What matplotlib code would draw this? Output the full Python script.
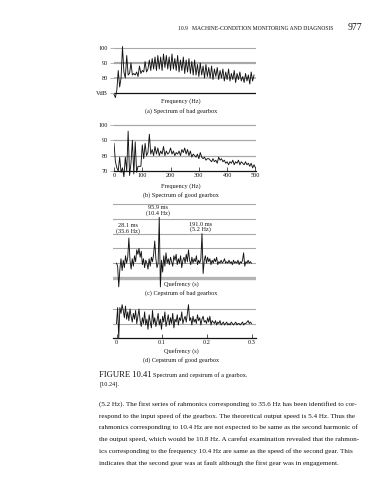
import matplotlib.pyplot as plt
import numpy as np

plt.rcParams['font.family'] = ['Liberation Serif', 'DejaVu Serif']

W, H = 387, 480

# (a) spectrum of bad gearbox, dB every 5 Hz
freq_a = np.arange(0, 500, 5)
spec_bad = [69, 67, 72, 85, 74, 80, 101, 84, 80, 95, 82, 83, 90, 82, 83, 82, 84, 81, 88, 83,
            85, 84, 91, 84, 86, 92, 85, 93, 86, 94, 85, 95, 86, 94, 85, 96, 87, 95, 86, 94,
            85, 96, 86, 93, 85, 95, 84, 92, 85, 94, 83, 92, 84, 93, 83, 91, 82, 92, 82, 89,
            81, 90, 82, 88, 80, 89, 81, 87, 80, 88, 79, 86, 81, 87, 79, 85, 80, 86, 78, 84,
            79, 86, 78, 83, 79, 85, 77, 83, 79, 84, 78, 81, 77, 83, 78, 82, 76, 84, 78, 82]

# (b) spectrum of good gearbox, dB every 5 Hz
freq_b = np.arange(0, 505, 5)
spec_good = [88, 76, 72, 70, 79, 69, 72, 66, 79, 70, 96, 67, 75, 90, 68, 89, 69, 73, 73, 73,
             87, 78, 88, 80, 82, 94, 81, 84, 80, 86, 81, 85, 80, 83, 81, 86, 80, 83, 81, 82,
             85, 81, 83, 80, 82, 81, 83, 80, 84, 82, 85, 81, 84, 80, 83, 79, 81, 80, 79, 81,
             78, 82, 79, 78, 79, 77, 78, 78, 77, 76, 78, 76, 77, 75, 79, 77, 78, 76, 77, 75,
             76, 74, 76, 75, 77, 74, 76, 75, 77, 74, 76, 75, 74, 76, 74, 75, 73, 75, 72, 74, 72]
freq_ticks = [0, 100, 200, 300, 400, 500]

# (c), (d) cepstra every 2.5 ms
quef = np.arange(121) * 0.0025
cep_bad = [1.0, 0.8, -0.6, 0.6, 1.3, 0.5, 1.2, 0.7, 1.5, 1.0,
           1.4, 2.7, 1.2, 0.6, 1.3, 0.8, 1.5, 1.1, 1.9, 1.6,
           2.0, 1.4, 1.8, 0.9, 1.3, 0.7, 1.2, 1.0, 0.6, 1.3,
           0.8, 1.4, 1.1, 1.6, 2.5, 1.3, 0.7, 1.0, 4.1, -0.6,
           1.2, 0.4, 1.5, 0.8, 1.7, 1.0, 1.3, 0.9, 1.4, 1.1,
           0.8, 1.5, 1.2, 1.6, 0.9, 1.3, 1.0, 1.5, 0.7, 1.2,
           1.4, 1.0, 1.6, 1.1, 1.9, 1.2, 0.9, 1.4, 1.0, 1.3,
           1.1, 1.5, 0.9, 1.2, 1.0, 1.3, 3.0, 0.3, 1.2, 1.5,
           1.0, 1.4, 1.1, 1.3, 0.9, 1.2, 1.0, 1.3, 1.1, 1.4,
           0.9, 1.1, 1.0, 1.2, 1.0, 1.1, 1.3, 1.0, 1.1, 1.0,
           1.2, 1.0, 1.1, 0.9, 1.2, 1.0, 1.1, 1.0, 1.2, 0.9,
           1.1, 1.0, 1.2, 1.7, 0.8, 1.1, 1.0, 1.2, 1.0, 1.1, 1.0]
cep_good = [1.0, 2.1, 0.0, 2.1, 1.7, 2.3, 1.9, 1.4, 2.2, 1.3,
            1.8, 1.2, 2.0, 1.5, 1.1, 1.7, 1.3, 1.9, 1.0, 1.5,
            2.0, 1.2, 0.8, 1.4, 1.0, 1.8, 0.9, 1.3, 0.6, 1.6,
            1.1, 0.7, 1.9, 1.0, 1.4, 0.8, 1.2, 1.7, 0.9, 1.3,
            0.6, 1.5, 1.1, 1.8, 0.8, 1.2, 1.6, 0.9, 1.4, 1.0,
            1.7, 0.7, 1.3, 1.1, 1.6, 0.9, 1.4, 1.2, 1.8, 1.0,
            1.3, 1.5, 1.1, 1.7, 2.3, 1.2, 1.4, 0.9, 1.5, 1.1,
            1.3, 1.0, 1.6, 1.2, 1.4, 0.9, 1.3, 1.5, 1.1, 1.2,
            1.0, 1.4, 1.1, 1.5, 0.9, 1.2, 1.1, 1.0, 1.2, 0.9,
            1.1, 1.0, 1.2, 0.9, 1.0, 1.1, 0.9, 1.0, 1.1, 0.9,
            1.0, 0.9, 1.1, 1.0, 0.9, 1.0, 1.1, 0.9, 1.0, 1.0,
            0.9, 1.0, 1.1, 0.9, 1.0, 1.0, 1.1, 1.2, 1.0, 1.1, 1.0]
quef_ticks = [0, 0.1, 0.2, 0.3]

peak_labels = [(0.0256, 3.35, '28.1 ms\n(35.6 Hz)'),
               (0.092, 4.55, '95.9 ms\n(10.4 Hz)'),
               (0.186, 3.45, '191.0 ms\n(5.2 Hz)')]

paragraph = [
    "(5.2 Hz). The first series of rahmonics corresponding to 35.6 Hz has been identified to cor-",
    "respond to the input speed of the gearbox. The theoretical output speed is 5.4 Hz. Thus the",
    "rahmonics corresponding to 10.4 Hz are not expected to be same as the second harmonic of",
    "the output speed, which would be 10.8 Hz. A careful examination revealed that the rahmon-",
    "ics corresponding to the frequency 10.4 Hz are same as the speed of the second gear. This",
    "indicates that the second gear was at fault although the first gear was in engagement.",
]

GRID = '#a8a8a8'
INK = '#141414'
FS = 4.5


def box(x0, y0, x1, y1):
    return [x0 / W, 1 - y1 / H, (x1 - x0) / W, (y1 - y0) / H]


def ftext(x, y, s, **kw):
    kw.setdefault('fontsize', FS)
    kw.setdefault('ha', 'center')
    kw.setdefault('va', 'center')
    kw.setdefault('color', INK)
    fig.text(x / W, 1 - y / H, s, **kw)


def clean(ax):
    for s in ax.spines.values():
        s.set_visible(False)
    ax.set_xticks([])
    ax.set_yticks([])
    ax.patch.set_alpha(0)


fig = plt.figure(figsize=(W / 100, H / 100), dpi=100)

ftext(256, 28, '10.9   MACHINE-CONDITION MONITORING AND DIAGNOSIS', fontsize=4.1)
ftext(355, 27.5, '977', fontsize=7)

# (a)
ax = fig.add_axes(box(114, 45, 256, 99))
clean(ax)
ax.set_xlim(0, 502)
ax.set_ylim(66, 102)
for v, lw in [(100, 0.8), (90, 1.6), (80, 1.1)]:
    ax.axhline(v, color=GRID, lw=lw, zorder=1)
ax.axhline(70, color=INK, lw=0.9, zorder=1)
ax.plot(freq_a, spec_bad, color=INK, lw=0.65, zorder=3, clip_on=False)
ax.set_yticks([100, 90, 80, 70], ['100', '90', '80', 'VdB'])
ax.tick_params(axis='y', length=3, width=0.6, color=GRID, labelsize=FS, pad=1.5, labelcolor=INK)
ftext(181, 101, 'Frequency (Hz)')
ftext(181, 111, '(a) Spectrum of bad gearbox')

# (b)
ax = fig.add_axes(box(114, 122, 256, 177))
clean(ax)
ax.set_xlim(0, 502)
ax.set_ylim(66, 102)
for v in [100, 90, 80]:
    ax.axhline(v, color=GRID, lw=0.9, zorder=1)
ax.spines['bottom'].set_visible(True)
ax.spines['bottom'].set_position(('data', 70))
ax.spines['bottom'].set_color(INK)
ax.spines['bottom'].set_linewidth(0.9)
ax.plot(freq_b, spec_good, color=INK, lw=0.65, zorder=3)
ax.set_yticks([100, 90, 80, 70], ['100', '90', '80', '70'])
ax.set_xticks(freq_ticks, [str(t) for t in freq_ticks])
ax.tick_params(axis='y', length=3, width=0.6, color=GRID, labelsize=FS, pad=1.5, labelcolor=INK)
ax.tick_params(axis='x', direction='in', length=3, width=0.5, color=INK, labelsize=FS, pad=1.5,
               labelcolor=INK)
ftext(181, 186, 'Frequency (Hz)')
ftext(181, 195, '(b) Spectrum of good gearbox')

# (c)
qlim = ((113 - 116.5) / 450, (256 - 116.5) / 450)
ax = fig.add_axes(box(113, 202.5, 256, 289.8))
clean(ax)
ax.set_xlim(*qlim)
ax.set_ylim(-0.8, 5.1)
for v in [5, 4, 3, 2, 1]:
    ax.axhline(v, color=GRID, lw=0.8, zorder=1)
ax.axhline(0, color='#b4b4b4', lw=2.4, zorder=1)
ax.plot(quef, cep_bad, color=INK, lw=0.65, zorder=3)
for x, y, s in peak_labels:
    ax.text(x, y, s, fontsize=FS, ha='center', va='center', color=INK, linespacing=1.0,
            zorder=4)
ftext(181, 284, 'Quefrency (s)')
ftext(181, 293, '(c) Cepstrum of bad gearbox')

# (d)
ax = fig.add_axes(box(113, 303.2, 256, 339.5))
clean(ax)
ax.set_xlim(*qlim)
ax.set_ylim(-0.1, 2.4)
for v in [2, 1]:
    ax.axhline(v, color=GRID, lw=0.8, zorder=1)
ax.spines['bottom'].set_visible(True)
ax.spines['bottom'].set_position(('data', 0))
ax.spines['bottom'].set_color(INK)
ax.spines['bottom'].set_linewidth(0.9)
ax.plot(quef, cep_good, color=INK, lw=0.65, zorder=3)
ax.set_xticks(quef_ticks, ['0', '0.1', '0.2', '0.3'])
ax.tick_params(axis='x', direction='in', length=3, width=0.5, color=INK, labelsize=FS, pad=1.5,
               labelcolor=INK)
ftext(181, 351, 'Quefrency (s)')
ftext(181, 360, '(d) Cepstrum of good gearbox')

# caption and body text
ftext(99, 375, 'FIGURE 10.41', ha='left', fontsize=6.2)
ftext(153, 375.5, 'Spectrum and cepstrum of a gearbox.', ha='left', fontsize=FS)
ftext(99, 384, '[10.24].', ha='left', fontsize=FS)
for i, line in enumerate(paragraph):
    ftext(99, 404 + i * 11.8, line, ha='left', fontsize=5.1)

fig.savefig('out.png', dpi=100)
